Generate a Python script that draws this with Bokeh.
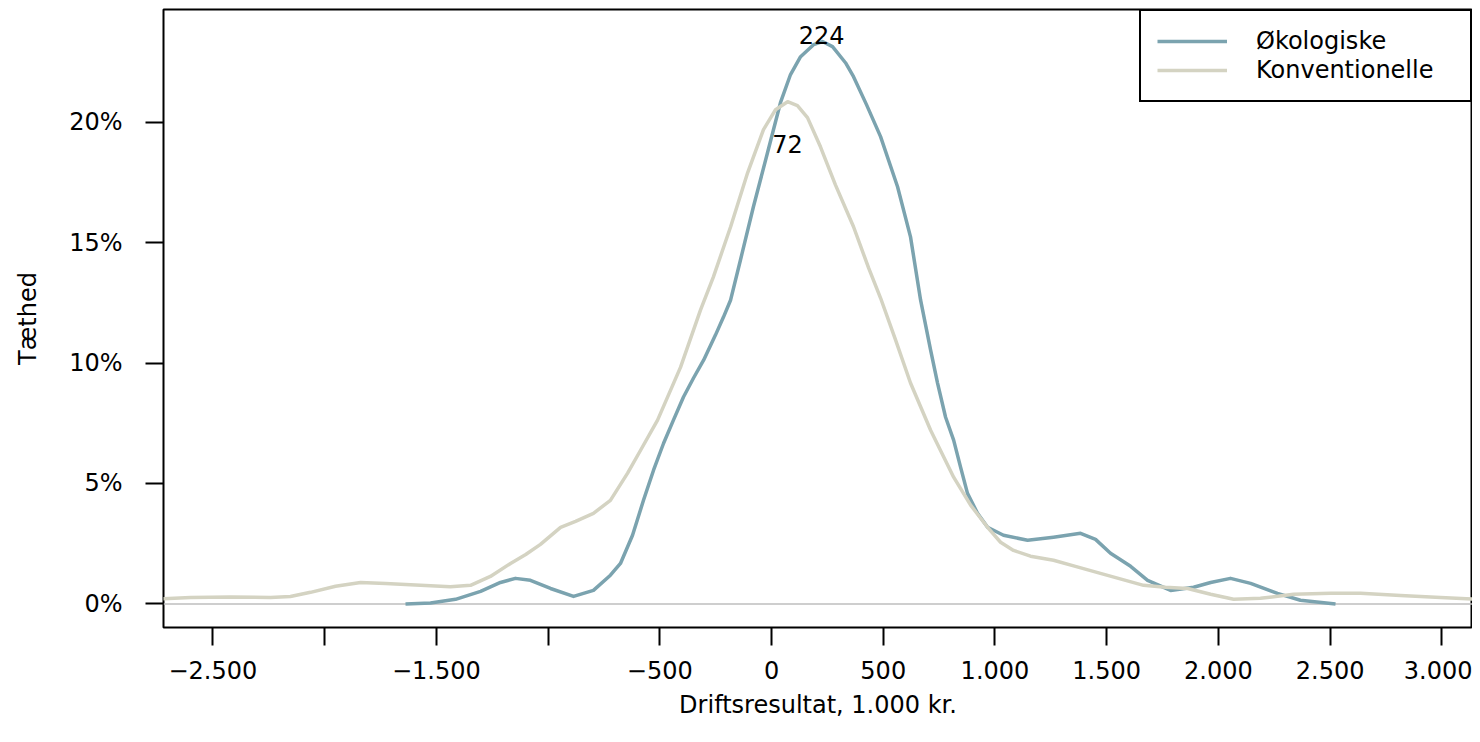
from bokeh.plotting import figure
from bokeh.models import (Range1d, FixedTicker, NumeralTickFormatter, Span,
                          Legend, LegendItem)
from bokeh.core.properties import value
from bokeh.embed import file_html
from bokeh.resources import INLINE

# ---------------- data ----------------
# Driftsresultat, 1.000 kr.  ->  density (fraction, shown as %)
oko_x = [-1638, -1526, -1414, -1302, -1213, -1146, -1079, -989, -886, -797,
         -721, -676, -622, -573, -528, -483, -439, -394, -349, -304,
         -251, -215, -183, -139, -81, -18, 40, 85, 130, 188,
         228, 273, 331, 367, 425, 488, 564, 622, 667, 712,
         743, 779, 815, 846, 877, 922, 967, 1038, 1146, 1262,
         1383, 1450, 1517, 1607, 1683, 1786, 1889, 1965, 2054, 2144,
         2264, 2367, 2524]
oko_y = [0.0000, 0.0004, 0.0019, 0.0052, 0.0089, 0.0106, 0.0098, 0.0064, 0.0031, 0.0056,
         0.0119, 0.0168, 0.0285, 0.0430, 0.0555, 0.0667, 0.0763, 0.0859, 0.0938, 0.1012,
         0.1116, 0.1191, 0.1262, 0.1428, 0.1649, 0.1873, 0.2081, 0.2198, 0.2272, 0.2322,
         0.2335, 0.2314, 0.2247, 0.2189, 0.2073, 0.1940, 0.1732, 0.1524, 0.1262, 0.1054,
         0.0917, 0.0775, 0.0680, 0.0568, 0.0459, 0.0376, 0.0318, 0.0285, 0.0264, 0.0277,
         0.0293, 0.0268, 0.0210, 0.0156, 0.0098, 0.0056, 0.0069, 0.0089, 0.0106, 0.0085,
         0.0044, 0.0015, 0.0000]

konv_x = [-2900, -2721, -2600, -2421, -2242, -2153, -2063, -1951, -1839, -1727,
          -1571, -1437, -1347, -1258, -1168, -1100, -1034, -944, -877, -797,
          -721, -644, -586, -510, -407, -318, -260, -183, -107, -36,
          18, 72, 116, 161, 219, 286, 367, 434, 488, 555,
          622, 712, 815, 891, 967, 1025, 1083, 1159, 1262, 1360,
          1472, 1665, 1763, 1862, 1965, 2068, 2188, 2336, 2502, 2636,
          2815, 2994, 3173, 3350]
konv_y = [0.0015, 0.0021, 0.0027, 0.0029, 0.0027, 0.0031, 0.0048, 0.0073, 0.0089, 0.0085,
          0.0077, 0.0071, 0.0077, 0.0114, 0.0168, 0.0205, 0.0247, 0.0318, 0.0343, 0.0376,
          0.0430, 0.0543, 0.0638, 0.0763, 0.0983, 0.1220, 0.1358, 0.1566, 0.1790, 0.1969,
          0.2052, 0.2085, 0.2069, 0.2019, 0.1898, 0.1740, 0.1566, 0.1396, 0.1270, 0.1096,
          0.0917, 0.0721, 0.0526, 0.0410, 0.0318, 0.0256, 0.0222, 0.0198, 0.0181, 0.0156,
          0.0127, 0.0077, 0.0069, 0.0064, 0.0040, 0.0019, 0.0023, 0.0040, 0.0044, 0.0044,
          0.0035, 0.0027, 0.0019, 0.0015]

series_names = ["Økologiske", "Konventionelle"]
series_colors = ["#7BA3AF", "#D4D3C2"]
modes = [224, 72]
mode_labels = ["224", "72"]

x_ticks = [-2500, -2000, -1500, -1000, -500, 0, 500, 1000, 1500, 2000, 2500, 3000]
x_tick_labels = ["\u22122.500", "", "\u22121.500", "", "\u2212500", "0", "500",
                 "1.000", "1.500", "2.000", "2.500", "3.000"]
y_ticks = [0.0, 0.05, 0.10, 0.15, 0.20]

FONT = "DejaVu Sans"
FS = "24px"

p = figure(width=1472, height=731, output_backend="svg", toolbar_location=None,
           x_range=Range1d(-2721, 3137), y_range=Range1d(-0.0098, 0.2468),
           min_border_left=163, min_border_right=0, min_border_top=9,
           min_border_bottom=104)

p.grid.visible = False
p.background_fill_color = "white"
p.border_fill_color = "white"
p.outline_line_color = "black"
p.outline_line_width = 2
p.outline_line_alpha = 1.0

# zero reference line
p.add_layout(Span(location=0, dimension="width", line_color="#BEBEBE",
                  line_width=1.5, level="underlay"))

r_oko = p.line(oko_x, oko_y, line_color=series_colors[0], line_width=3.5,
               line_join="round")
r_konv = p.line(konv_x, konv_y, line_color=series_colors[1], line_width=3.5,
                line_join="round")

# mode labels
peak_oko = max(oko_y)
peak_konv = max(konv_y)
p.text(x=[modes[0]], y=[peak_oko], text=[mode_labels[0]], text_align="center",
       text_baseline="middle", y_offset=-7, text_font=value(FONT),
       text_font_size=FS, text_color="black")
p.text(x=[modes[1]], y=[peak_konv], text=[mode_labels[1]], text_align="center",
       text_baseline="middle", y_offset=42, text_font=value(FONT),
       text_font_size=FS, text_color="black")

# axes
xa = p.xaxis[0]
xa.ticker = FixedTicker(ticks=x_ticks)
xa.major_label_overrides = {t: l for t, l in zip(x_ticks, x_tick_labels)}
xa.axis_label = "Driftsresultat, 1.000 kr."
ya = p.yaxis[0]
ya.ticker = FixedTicker(ticks=y_ticks)
ya.formatter = NumeralTickFormatter(format="0%")
ya.axis_label = "Tæthed"

for ax in (xa, ya):
    ax.axis_line_color = None
    ax.major_tick_line_color = "black"
    ax.major_tick_line_width = 2
    ax.major_tick_in = 0
    ax.major_tick_out = 18
    ax.minor_tick_line_color = None
    ax.major_label_text_font = FONT
    ax.major_label_text_font_size = FS
    ax.major_label_text_color = "black"
    ax.axis_label_text_font = FONT
    ax.axis_label_text_font_size = FS
    ax.axis_label_text_font_style = "normal"
    ax.axis_label_text_color = "black"

xa.major_label_standoff = 15
xa.axis_label_standoff = 9
ya.major_label_standoff = 23
ya.axis_label_standoff = 24

legend = Legend(items=[LegendItem(label=series_names[0], renderers=[r_oko]),
                       LegendItem(label=series_names[1], renderers=[r_konv])],
                location="top_right", orientation="vertical")
legend.margin = 0
legend.padding = 16
legend.spacing = 1
legend.glyph_width = 70
legend.glyph_height = 26
legend.label_height = 26
legend.label_width = 198
legend.label_standoff = 29
legend.label_text_font = FONT
legend.label_text_font_size = FS
legend.label_text_color = "black"
legend.border_line_color = "black"
legend.border_line_alpha = 1.0
legend.border_line_width = 2
legend.background_fill_color = "white"
legend.background_fill_alpha = 1.0
p.add_layout(legend, "center")

open("out.html", "w").write(file_html(p, INLINE))
